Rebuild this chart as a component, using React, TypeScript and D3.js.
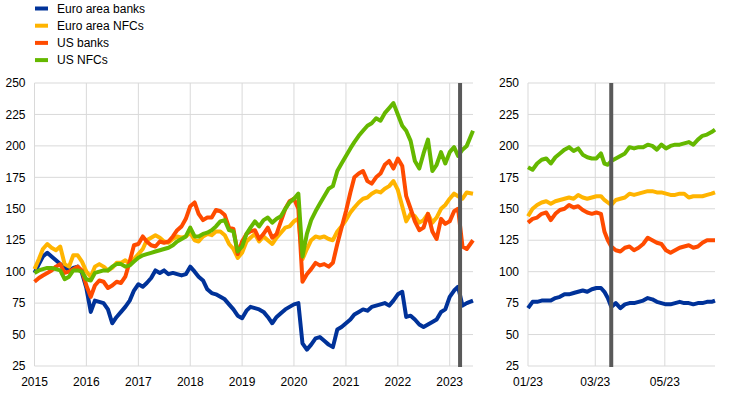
import * as d3 from "d3";

// ---- data: equity price indices (rebased), left = monthly 2015–2023, right = 2023 daily-ish
const seriesNames = ["Euro area banks", "Euro area NFCs", "US banks", "US NFCs"];
const seriesColors = ["#003299", "#ffb400", "#ff4b00", "#65b800"];

// Jan 2015 ... May 2023 (month starts), last point 14 June 2023
const monthStarts = d3.timeMonth.range(new Date(2015, 0, 1), new Date(2023, 5, 1));
const leftDates = [...monthStarts, new Date(2023, 5, 14)];

const eaBanks = [
  99, 106, 112, 115, 112, 109, 106, 104, 101, 103, 104, 99,
  87, 68, 77, 76, 75, 70, 59, 64, 68, 72, 77, 85,
  90, 88, 91, 95, 101, 99, 101, 98, 99, 98, 97, 98,
  104, 100, 96, 93, 86, 83, 82, 80, 78, 74, 70, 65,
  63, 69, 72, 71, 70, 68, 64, 59, 64, 67, 70, 72,
  74, 75, 43, 38, 42, 47, 48, 45, 42, 40, 54, 56,
  59, 62, 66, 68, 70, 69, 72, 73, 74, 75, 73, 77,
  82, 84, 64, 65, 62, 58, 56, 58, 60, 62, 68, 70,
  80, 85, 88, 73, 75, 77,
];
const eaNfcs = [
  102, 110, 118, 122, 119, 117, 120, 106, 104, 113, 113, 108,
  100, 96, 104, 106, 104, 101, 103, 107, 107, 109, 106, 110,
  114, 118, 125, 127, 129, 127, 124, 123, 126, 128, 127, 128,
  131, 125, 124, 128, 130, 129, 132, 132, 129, 122, 118, 111,
  115, 124, 127, 130, 124, 128, 125, 122, 127, 131, 135, 136,
  140, 142, 110, 118, 125, 128, 127, 128, 126, 125, 132, 136,
  141, 147, 151, 155, 158, 159, 162, 164, 163, 166, 168, 172,
  165, 152, 140, 146, 144, 139, 141, 146, 139, 143, 150, 153,
  158, 162, 160, 158, 163, 162,
];
const usBanks = [
  92, 95, 97, 99, 101, 104, 106, 99, 100, 102, 104, 101,
  89, 80, 89, 93, 92, 87, 89, 92, 91, 96, 108, 121,
  122, 128, 124, 121, 120, 124, 123, 124, 128, 133, 136, 142,
  152, 155, 146, 141, 143, 143, 149, 148, 145, 135, 134, 114,
  124, 130, 132, 133, 126, 130, 135, 127, 130, 140, 150, 156,
  158, 150, 92, 98, 102, 107, 105, 106, 104, 107, 122, 135,
  148, 163, 175, 178, 180, 172, 170, 175, 178, 185, 188, 182,
  190, 184, 160, 150, 140, 133, 135, 146, 132, 126, 142, 138,
  140, 148, 150, 120, 118, 125,
];
const usNfcs = [
  99, 101, 102, 103, 103, 102, 101, 94, 96, 101, 101, 100,
  94, 93, 99, 100, 101, 101, 104, 106, 106, 104, 105, 108,
  111, 113, 114, 115, 116, 117, 118, 119, 121, 124, 126, 128,
  135, 128, 128, 130, 131, 133, 136, 140, 141, 133, 132, 116,
  120, 130, 135, 140, 136, 141, 143, 139, 142, 144, 150, 155,
  158, 162, 112, 130, 141, 148, 154, 160, 166, 168, 180, 186,
  192, 198, 203, 208, 212, 216, 218, 222, 220, 226, 230, 234,
  225, 216, 212, 204, 188, 182, 194, 205, 180, 185, 195, 186,
  195, 199, 192, 197, 200, 212,
];

// 2023: days since 1 January
const rightDays = [
  0, 4, 8, 12, 16, 20, 24, 28, 32, 36, 40, 44, 48, 52, 56, 60, 64, 67, 70, 73, 77,
  81, 85, 89, 93, 97, 101, 105, 109, 113, 117, 121, 125, 129, 133, 137, 141, 145,
  149, 153, 157, 161, 164,
];
const rightDates = rightDays.map((d) => d3.timeDay.offset(new Date(2023, 0, 1), d));

const eaBanks23 = [
  71, 76, 76, 77, 77, 77, 79, 80, 82, 82, 83, 84, 85, 84, 86, 87, 87, 84, 79, 72, 75,
  71, 74, 75, 75, 76, 77, 79, 78, 76, 75, 74, 74, 75, 76, 75, 75, 74, 75, 75, 76, 76, 77,
];
const eaNfcs23 = [
  144, 150, 153, 155, 156, 154, 156, 157, 158, 159, 158, 161, 159, 158, 159, 160, 160,
  157, 155, 153, 157, 158, 159, 162, 161, 162, 163, 164, 164, 163, 163, 162, 161, 161,
  162, 162, 159, 160, 160, 160, 161, 162, 163,
];
const usBanks23 = [
  139, 142, 143, 146, 147, 141, 146, 149, 150, 153, 151, 152, 149, 147, 146, 147, 146,
  132, 125, 120, 117, 116, 119, 120, 117, 119, 122, 127, 125, 123, 122, 117, 115, 117,
  119, 120, 121, 119, 120, 123, 125, 125, 125,
];
const usNfcs23 = [
  183, 181, 186, 189, 190, 186, 191, 194, 197, 199, 196, 198, 193, 191, 190, 190, 194,
  186, 185, 188, 190, 192, 194, 199, 198, 199, 199, 201, 200, 197, 201, 198, 200, 201,
  201, 202, 203, 201, 205, 208, 209, 211, 213,
];

const yTicks = [25, 50, 75, 100, 125, 150, 175, 200, 225, 250];
const yearTicks = d3.range(2015, 2024).map((y) => new Date(y, 0, 1));
const monthTicks = [new Date(2023, 0, 1), new Date(2023, 2, 1), new Date(2023, 4, 1)];
const eventDate = new Date(2023, 2, 15);

const leftSeries = [eaBanks, eaNfcs, usBanks, usNfcs];
const rightSeries = [eaBanks23, eaNfcs23, usBanks23, usNfcs23];

const W = 744;
const H = 393;
const FONT = "'Liberation Sans', Arial, sans-serif";
const GRID = "#d9d9d9";

type Pt = { date: Date; value: number };

function Panel(props: {
  dates: Date[];
  series: number[][];
  x0: number;
  x1: number;
  domain: [Date, Date];
  xTicks: Date[];
  fmt: (d: Date) => string;
}) {
  const { dates, series, x0, x1, domain, xTicks, fmt } = props;
  const x = d3.scaleTime().domain(domain).range([x0, x1]);
  const y = d3.scaleLinear().domain([25, 250]).range([366, 83]);
  const lineGen = d3
    .line<Pt>()
    .x((d) => x(d.date))
    .y((d) => y(d.value));

  return (
    <g>
      {yTicks.map((t) => (
        <g key={"y" + t}>
          <line x1={x0} x2={x1} y1={y(t)} y2={y(t)} stroke={GRID} strokeWidth={1} />
          <text
            x={x0 - 9}
            y={y(t)}
            dy="0.35em"
            textAnchor="end"
            fontSize={12}
            fontFamily={FONT}
            fill="#000"
          >
            {t}
          </text>
        </g>
      ))}
      {xTicks.map((t, i) => (
        <g key={"x" + i}>
          <line x1={x(t)} x2={x(t)} y1={y(250)} y2={y(25)} stroke={GRID} strokeWidth={1} />
          <text
            x={x(t)}
            y={386}
            textAnchor="middle"
            fontSize={12}
            fontFamily={FONT}
            fill="#000"
          >
            {fmt(t)}
          </text>
        </g>
      ))}
      {series.map((vals, i) => (
        <path
          key={seriesNames[i]}
          d={lineGen(vals.map((v, j) => ({ date: dates[j], value: v }))) || ""}
          fill="none"
          stroke={seriesColors[i]}
          strokeWidth={4}
          strokeLinejoin="round"
        />
      ))}
      <line
        x1={x(eventDate)}
        x2={x(eventDate)}
        y1={y(250)}
        y2={y(25) + 1}
        stroke="#595959"
        strokeWidth={4}
      />
    </g>
  );
}

export default function App() {
  return (
    <svg
      width={W}
      height={H}
      style={{ position: "absolute", left: 0, top: 0, background: "#fff" }}
    >
      {seriesNames.map((name, i) => (
        <g key={name} transform={`translate(0,${8.5 + i * 17.2})`}>
          <line x1={35} x2={48} y1={0} y2={0} stroke={seriesColors[i]} strokeWidth={4} />
          <text x={57} y={0} dy="0.35em" fontSize={12} fontFamily={FONT} fill="#000">
            {name}
          </text>
        </g>
      ))}
      <Panel
        dates={leftDates}
        series={leftSeries}
        x0={34.5}
        x1={473}
        domain={[new Date(2015, 0, 1), new Date(2023, 5, 14)]}
        xTicks={yearTicks}
        fmt={d3.timeFormat("%Y")}
      />
      <Panel
        dates={rightDates}
        series={rightSeries}
        x0={528}
        x1={715}
        domain={[new Date(2023, 0, 1), new Date(2023, 5, 14)]}
        xTicks={monthTicks}
        fmt={d3.timeFormat("%m/%y")}
      />
    </svg>
  );
}
